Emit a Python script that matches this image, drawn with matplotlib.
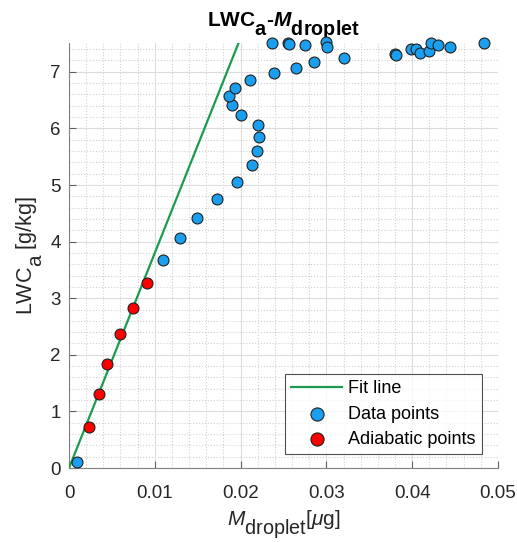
"""LWC_a versus droplet mass scatter with linear fit."""

import matplotlib
matplotlib.use('Agg')
import matplotlib.pyplot as plt
import matplotlib._mathtext as mt
import numpy as np

plt.rcParams['font.family'] = ['Liberation Sans', 'DejaVu Sans']
plt.rcParams['mathtext.fontset'] = 'custom'
plt.rcParams['mathtext.rm'] = 'Liberation Sans'
plt.rcParams['mathtext.it'] = 'Liberation Sans:italic'
plt.rcParams['mathtext.bf'] = 'Liberation Sans:bold'
plt.rcParams['mathtext.bfit'] = 'Liberation Sans:italic:bold'
# subscripts in the original are nearly full size and sit low
mt.SHRINK_FACTOR = 0.95
mt.FontConstantsBase.sub1 = 0.9

# Data points (droplet mass [ug], LWC_a [g/kg])
data_m = [0.00093, 0.0110, 0.0129, 0.0149, 0.0172, 0.0196, 0.0213, 0.0219,
          0.0221, 0.0220, 0.0201, 0.0190, 0.0186, 0.0194, 0.0211, 0.0239,
          0.0264, 0.0285, 0.0321, 0.0380, 0.0381, 0.0399, 0.0405, 0.0409,
          0.0420, 0.0422, 0.0430, 0.0444, 0.0484, 0.0237, 0.0255, 0.0256,
          0.0275, 0.0300, 0.0301]
data_lwc = [0.11, 3.67, 4.06, 4.42, 4.75, 5.05, 5.35, 5.60,
            5.85, 6.06, 6.24, 6.41, 6.57, 6.72, 6.85, 6.97,
            7.07, 7.17, 7.24, 7.31, 7.30, 7.40, 7.41, 7.34,
            7.36, 7.50, 7.48, 7.44, 7.51, 7.51, 7.50, 7.49,
            7.47, 7.52, 7.44]

# Adiabatic points
adia_m = [0.00233, 0.00346, 0.00447, 0.00591, 0.00750, 0.00905]
adia_lwc = [0.73, 1.30, 1.84, 2.36, 2.83, 3.26]

# Fit line: LWC = slope * M
fit_slope = 380.0
fit_ymax = 7.5

fig = plt.figure(figsize=(5.17, 5.43), dpi=100)
ax = fig.add_axes([0.1335, 0.1381, 0.8297, 0.7818])

fit_x = np.array([0, fit_ymax / fit_slope])
ax.plot(fit_x, fit_slope * fit_x, color='#1a9b4f', lw=1.6, label='Fit line', zorder=3)
ax.scatter(data_m, data_lwc, s=62, color='#1a9ff0', edgecolor='#202020',
           linewidth=0.8, label='Data points', zorder=4, clip_on=False)
ax.scatter(adia_m, adia_lwc, s=62, color='#ff0000', edgecolor='#202020',
           linewidth=0.8, label='Adiabatic points', zorder=5, clip_on=False)

ax.set_xlim(0, 0.05)
ax.set_ylim(0, 7.5)
ax.set_xticks(np.arange(0, 0.051, 0.01))
ax.set_xticklabels(['0', '0.01', '0.02', '0.03', '0.04', '0.05'])
ax.set_yticks(np.arange(0, 8, 1))
ax.set_xticks(np.arange(0, 0.0501, 0.002), minor=True)
ax.set_yticks(np.arange(0, 7.51, 0.2), minor=True)

ax.grid(which='major', color='#dcdcdc', linestyle='-', linewidth=0.8)
ax.grid(which='minor', color='#d0d0d0', linestyle=':', linewidth=0.8)
ax.set_axisbelow(True)

for side in ['top', 'right']:
    ax.spines[side].set_visible(False)
for side in ['left', 'bottom']:
    ax.spines[side].set_color('#808080')
ax.tick_params(which='major', direction='in', length=5, color='#606060',
               labelsize=13.5, labelcolor='#262626')
ax.tick_params(axis='x', pad=12)
ax.tick_params(axis='y', pad=6)
ax.tick_params(which='minor', length=0)

ax.set_xlabel(r'$M_\mathrm{droplet}$[$\mu$g]', fontsize=15, color='#262626',
              labelpad=5)
ax.set_ylabel(r'LWC$_\mathrm{a}$ [g/kg]', fontsize=15.5, color='#262626',
              labelpad=4)
ax.set_title(r'LWC$_\mathbf{a}$-$\mathbfit{M}_\mathbf{droplet}$',
             fontsize=15, fontweight='bold', pad=6)

leg = ax.legend(loc='lower right', bbox_to_anchor=(0.963, 0.033), fontsize=13,
                frameon=True, fancybox=False, edgecolor='#262626',
                borderaxespad=0, handlelength=2.8, handletextpad=0.35,
                borderpad=0.35, labelspacing=0.45, markerscale=1.2)
leg.get_frame().set_linewidth(0.8)

fig.savefig('out.png', dpi=100)
